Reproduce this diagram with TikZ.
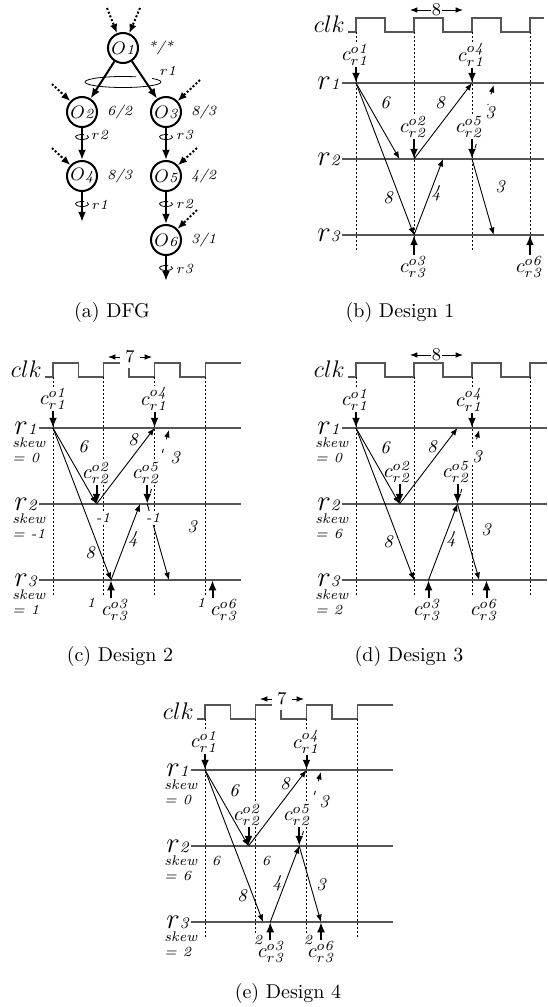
\documentclass[tikz,border=0pt]{standalone}
\usepackage{tikz}
\usetikzlibrary{arrows.meta,positioning}
\definecolor{rowgray}{HTML}{555555}
\newcommand{\clab}[2]{$c^{o\mathit{#1}}_{r\mathit{#2}}$}
\newcommand{\oplab}[1]{{\small$O$}{\scriptsize\itshape#1}}
\newcommand{\rsmall}[1]{$r$\textit{#1}}
\newcommand{\rbig}[1]{{\Large$r$}{\footnotesize\itshape#1}}
\newcommand{\rloop}[3]{\draw[loopline] (#1) ++(-40:#2 and #3) arc[start angle=-40,end angle=290,x radius=#2,y radius=#3];}
\tikzset{
  >={Latex[length=1.3mm,width=1mm]},
  opnode/.style={circle,draw,line width=1pt,minimum size=15pt,inner sep=0pt},
  dfgedge/.style={-{Latex[length=1.8mm,width=1.4mm]},line width=1pt},
  inarrow/.style={-{Latex[length=1.6mm,width=1.3mm]},line width=1pt,dash pattern=on 1pt off 1pt},
  loopline/.style={line width=.4pt},
  ratio/.style={font=\scriptsize\itshape},
  rlab/.style={font=\scriptsize,inner sep=1pt},
  row/.style={draw=rowgray,line width=.7pt},
  clkline/.style={draw=rowgray,line width=.7pt},
  tick/.style={line width=.4pt,dash pattern=on 1pt off 1pt},
  dep/.style={->,line width=.45pt},
  span/.style={<->,line width=.45pt},
  cin/.style={-{Latex[length=1.8mm,width=1.4mm]},line width=1pt},
  feed/.style={->,line width=.45pt,dash pattern=on 2pt off 5pt},
  clabel/.style={fill=white,inner sep=.5pt},
  num/.style={font=\small\itshape,inner sep=1pt},
  tinylab/.style={font=\scriptsize\itshape,inner sep=1pt,fill=white},
  skew/.style={font=\scriptsize\itshape,inner sep=0pt,anchor=west},
  per/.style={font=\small,fill=white,inner sep=.5pt},
  clkname/.style={font=\large,anchor=base east,inner sep=0pt},
  rname/.style={anchor=east,inner sep=0pt},
  caption/.style={font=\normalsize},
}
\begin{document}
\begin{tikzpicture}[x=0.5pt,y=-0.5pt]
  \useasboundingbox (0,0) rectangle (547,1007);

  \node[opnode] (o1) at (123,48) {\oplab{1}};
  \node[opnode] (o2) at (82,112) {\oplab{2}};
  \node[opnode] (o3) at (166,112) {\oplab{3}};
  \node[opnode] (o4) at (82,176) {\oplab{4}};
  \node[opnode] (o5) at (166,176) {\oplab{5}};
  \node[opnode] (o6) at (166,240) {\oplab{6}};
  \node[ratio,right=1pt of o1] (w1) {*/*};
  \node[ratio,right=1pt of o2] (w2) {6/2};
  \node[ratio,right=1pt of o3] (w3) {8/3};
  \node[ratio,right=1pt of o4] (w4) {8/3};
  \node[ratio,right=1pt of o5] (w5) {4/2};
  \node[ratio,right=1pt of o6] (w6) {3/1};
  \coordinate (x4) at (82,222);
  \coordinate (x6) at (166,281);
  \draw[dfgedge] (o1) -- (o2);
  \draw[dfgedge] (o1) -- (o3);
  \draw[dfgedge] (o2) -- (o4);
  \draw[dfgedge] (o3) -- (o5);
  \draw[dfgedge] (o5) -- (o6);
  \draw[dfgedge] (o4) -- (x4);
  \draw[dfgedge] (o6) -- (x6);
  \coordinate (i1a) at (107,8); \coordinate (i1b) at (140,8);
  \coordinate (i2) at (52,84);  \coordinate (i3) at (200,80);
  \coordinate (i4) at (52,148); \coordinate (i5) at (197,148);
  \coordinate (i6) at (197,210);
  \foreach \src/\dst in {i1a/o1,i1b/o1,i2/o2,i3/o3,i4/o4,i5/o5,i6/o6}
    \draw[inarrow] (\src) -- (\dst);
  \coordinate (lp1) at (123,82);  \rloop{lp1}{38}{5.5}
  \coordinate (lp2) at (82,137);  \rloop{lp2}{6.5}{2.5}
  \coordinate (lp3) at (166,137); \rloop{lp3}{6.5}{2.5}
  \coordinate (lp4) at (82,204);  \rloop{lp4}{6.5}{2.5}
  \coordinate (lp5) at (166,204); \rloop{lp5}{6.5}{2.5}
  \coordinate (lp6) at (166,268); \rloop{lp6}{6.5}{2.5}
  \node[rlab] (lr1) at (168,71) {\rsmall{1}};
  \node[rlab] (lr2) at (100,135) {\rsmall{2}};
  \node[rlab] (lr3) at (185,135) {\rsmall{3}};
  \node[rlab] (lr4) at (100,205) {\rsmall{1}};
  \node[rlab] (lr5) at (185,204) {\rsmall{2}};
  \node[rlab] (lr6) at (185,269) {\rsmall{3}};

  \begin{scope}[shift={(356,83)}]
    \draw[clkline] (-8,-51) -- (0,-51) \foreach \k in {1,2,3}{ -- ++(0,-14) -- ++(29,0) -- ++(0,14) -- ++(29,0)} -- ++(0,-14) -- (188,-65);
    \node[clkname] (b-clk) at (-11,-51) {$clk$};
    \foreach \x in {0,58,116,174} \draw[tick] (\x,-51) -- (\x,167);
    \coordinate (b-pl) at (54,-73); \coordinate (b-pr) at (107,-73);
    \draw[span] (b-pl) -- node[per] (b-per) {8} (b-pr);
    \foreach \r/\y in {1/0,2/76,3/152}{
      \coordinate (b-s\r) at (-14,\y); \coordinate (b-e\r) at (188,\y);
      \draw[row] (b-s\r) -- (b-e\r);
      \node[rname] (b-r\r) at (-16,\y) {\rbig{\r}};
    }
    \coordinate (b-o1) at (0,0);     \coordinate (b-o2) at (58,76);
    \coordinate (b-o3) at (58,152);  \coordinate (b-o4) at (116,0);
    \coordinate (b-o5) at (116,76);  \coordinate (b-o6) at (174,152);
    \coordinate (b-t2) at (43.5,76); \coordinate (b-t4) at (87,76);
    \coordinate (b-t6) at (137.75,152);
    \coordinate (b-f0) at (119.1,65); \coordinate (b-f1) at (137.75,2);
    \draw[feed] (b-f0) -- (b-f1);
    \node[clabel] (b-c1) at (0,-28) {\clab{1}{1}};
    \node[clabel] (b-c4) at (116,-28) {\clab{4}{1}};
    \node[clabel] (b-c2) at (58,44) {\clab{2}{2}};
    \node[clabel] (b-c5) at (114,44) {\clab{5}{2}};
    \node[clabel] (b-c3) at (58,184) {\clab{3}{3}};
    \node[clabel] (b-c6) at (174,184) {\clab{6}{3}};
    \draw[cin] (b-c1.south -| b-o1) -- (b-o1);
    \draw[cin] (b-c4.south -| b-o4) -- (b-o4);
    \draw[cin] (b-c2.south -| b-o2) -- (b-o2);
    \draw[cin] (b-c5.south -| b-o5) -- (b-o5);
    \draw[cin] (b-c3.north -| b-o3) -- (b-o3);
    \draw[cin] (b-c6.north -| b-o6) -- (b-o6);
    \draw[dep] (b-o1) -- (b-t2);
    \draw[dep] (b-o1) -- (b-o3);
    \draw[dep] (b-o2) -- (b-o4);
    \draw[dep] (b-o3) -- (b-t4);
    \draw[dep] (b-o5) -- (b-t6);
    \node[num] (b-n1) at (29,20) {6};
    \node[num] (b-n2) at (32,115) {8};
    \node[num] (b-n3) at (84,20) {8};
    \node[num] (b-n4) at (80,110) {4};
    \node[num] (b-n5) at (144,104) {3};
    \node[num,fill=white] (b-n6) at (134,30) {3};
  \end{scope}

  \begin{scope}[shift={(53,428)}]
    \draw[clkline] (-8,-51) -- (0,-51) \foreach \k in {1,2,3}{ -- ++(0,-14) -- ++(25.375,0) -- ++(0,14) -- ++(25.375,0)} -- ++(0,-14) -- (188,-65);
    \node[clkname] (c-clk) at (-11,-51) {$clk$};
    \foreach \x in {0,50.75,101.5,152.25} \draw[tick] (\x,-51) -- (\x,167);
    \coordinate (c-pl) at (55,-71); \coordinate (c-pr) at (99,-71);
    \draw[span] (c-pl) -- node[per,inner sep=2.5pt] (c-per) {7} (c-pr);
    \foreach \r/\y/\sk in {1/0/0,2/76/-1,3/152/1}{
      \coordinate (c-s\r) at (-14,\y); \coordinate (c-e\r) at (188,\y);
      \draw[row] (c-s\r) -- (c-e\r);
      \node[rname] (c-r\r) at (-16,\y) {\rbig{\r}};
      \node[skew] (c-k\r) at (-41,\y+15) {skew};
      \node[skew] (c-v\r) at (-41,\y+30) {= \sk};
    }
    \coordinate (c-o1) at (0,0);      \coordinate (c-o2) at (43.5,76);
    \coordinate (c-o3) at (58,152);   \coordinate (c-o4) at (101.5,0);
    \coordinate (c-o5) at (94.25,76); \coordinate (c-o6) at (159.5,152);
    \coordinate (c-t4) at (87,76);    \coordinate (c-t6) at (116,152);
    \coordinate (c-f0) at (97.35,65); \coordinate (c-f1) at (116,2);
    \draw[feed] (c-f0) -- (c-f1);
    \node[clabel] (c-c1) at (1,-29) {\clab{1}{1}};
    \node[clabel] (c-c4) at (102,-29) {\clab{4}{1}};
    \node[clabel] (c-c2) at (44,45) {\clab{2}{2}};
    \node[clabel] (c-c5) at (94,45) {\clab{5}{2}};
    \node[clabel] (c-c3) at (63,182) {\clab{3}{3}};
    \node[clabel] (c-c6) at (172,182) {\clab{6}{3}};
    \draw[cin] (c-c1.south -| c-o1) -- (c-o1);
    \draw[cin] (c-c4.south -| c-o4) -- (c-o4);
    \draw[cin] (c-c2.south -| c-o2) -- (c-o2);
    \draw[cin] (c-c5.south -| c-o5) -- (c-o5);
    \draw[cin] (c-c3.north -| c-o3) -- (c-o3);
    \draw[cin] (c-c6.north -| c-o6) -- (c-o6);
    \draw[dep] (c-o1) -- (c-o2);
    \draw[dep] (c-o1) -- (c-o3);
    \draw[dep] (c-o2) -- (c-o4);
    \draw[dep] (c-o3) -- (c-t4);
    \draw[dep] (c-o5) -- (c-t6);
    \node[num] (c-n1) at (30,19) {6};
    \node[num] (c-n2) at (37,125) {8};
    \node[num] (c-n3) at (80,12) {8};
    \node[num] (c-n4) at (80,111) {4};
    \node[num] (c-n5) at (139,99) {3};
    \node[num,fill=white] (c-n6) at (122,30) {3};
    \node[tinylab] (c-m1) at (50,90) {-1};
    \node[tinylab] (c-m2) at (100,90) {-1};
    \node[tinylab] (c-m3) at (38,175) {1};
    \node[tinylab] (c-m4) at (148,175) {1};
  \end{scope}

  \begin{scope}[shift={(356,428)}]
    \draw[clkline] (-8,-51) -- (0,-51) \foreach \k in {1,2,3}{ -- ++(0,-14) -- ++(29,0) -- ++(0,14) -- ++(29,0)} -- ++(0,-14) -- (191,-65);
    \node[clkname] (d-clk) at (-11,-51) {$clk$};
    \foreach \x in {0,58,116,174} \draw[tick] (\x,-51) -- (\x,167);
    \coordinate (d-pl) at (54,-73); \coordinate (d-pr) at (107,-73);
    \draw[span] (d-pl) -- node[per] (d-per) {8} (d-pr);
    \foreach \r/\y/\sk in {1/0/0,2/76/6,3/152/2}{
      \coordinate (d-s\r) at (-14,\y); \coordinate (d-e\r) at (191,\y);
      \draw[row] (d-s\r) -- (d-e\r);
      \node[rname] (d-r\r) at (-16,\y) {\rbig{\r}};
      \node[skew] (d-k\r) at (-41,\y+15) {skew};
      \node[skew] (d-v\r) at (-41,\y+30) {= \sk};
    }
    \coordinate (d-o1) at (0,0);       \coordinate (d-o2) at (43.5,76);
    \coordinate (d-o3) at (72.5,152);  \coordinate (d-o4) at (116,0);
    \coordinate (d-o5) at (101.5,76);  \coordinate (d-o6) at (130.5,152);
    \coordinate (d-t3) at (58,152);    \coordinate (d-t5) at (101.5,0);
    \coordinate (d-t6) at (123.25,152);
    \coordinate (d-f0) at (104.6,65);  \coordinate (d-f1) at (123.25,2);
    \draw[feed] (d-f0) -- (d-f1);
    \node[clabel] (d-c1) at (0,-28) {\clab{1}{1}};
    \node[clabel] (d-c4) at (114,-28) {\clab{4}{1}};
    \node[clabel] (d-c2) at (42,44) {\clab{2}{2}};
    \node[clabel] (d-c5) at (101,44) {\clab{5}{2}};
    \node[clabel] (d-c3) at (72,182) {\clab{3}{3}};
    \node[clabel] (d-c6) at (129,182) {\clab{6}{3}};
    \draw[cin] (d-c1.south -| d-o1) -- (d-o1);
    \draw[cin] (d-c4.south -| d-o4) -- (d-o4);
    \draw[cin] (d-c2.south -| d-o2) -- (d-o2);
    \draw[cin] (d-c5.south -| d-o5) -- (d-o5);
    \draw[cin] (d-c3.north -| d-o3) -- (d-o3);
    \draw[cin] (d-c6.north -| d-o6) -- (d-o6);
    \draw[dep] (d-o1) -- (d-o2);
    \draw[dep] (d-o1) -- (d-t3);
    \draw[dep] (d-o2) -- (d-t5);
    \draw[dep] (d-o3) -- (d-o5);
    \draw[dep] (d-o5) -- (d-t6);
    \node[num] (d-n1) at (29,20) {6};
    \node[num] (d-n2) at (32,114) {8};
    \node[num] (d-n3) at (76,19) {8};
    \node[num] (d-n4) at (95,111) {4};
    \node[num] (d-n5) at (130,102) {3};
    \node[num,fill=white] (d-n6) at (121,29) {3};
  \end{scope}

  \begin{scope}[shift={(205,770)}]
    \draw[clkline] (-8,-51) -- (0,-51) \foreach \k in {1,2,3}{ -- ++(0,-14) -- ++(25.375,0) -- ++(0,14) -- ++(25.375,0)} -- ++(0,-14) -- (188,-65);
    \node[clkname] (e-clk) at (-11,-51) {$clk$};
    \foreach \x in {0,50.75,101.5,152.25} \draw[tick] (\x,-51) -- (\x,167);
    \coordinate (e-pl) at (55,-71); \coordinate (e-pr) at (99,-71);
    \draw[span] (e-pl) -- node[per,inner sep=2.5pt] (e-per) {7} (e-pr);
    \foreach \r/\y/\sk in {1/0/0,2/76/6,3/152/2}{
      \coordinate (e-s\r) at (-14,\y); \coordinate (e-e\r) at (188,\y);
      \draw[row] (e-s\r) -- (e-e\r);
      \node[rname] (e-r\r) at (-16,\y) {\rbig{\r}};
      \node[skew] (e-k\r) at (-41,\y+15) {skew};
      \node[skew] (e-v\r) at (-41,\y+30) {= \sk};
    }
    \coordinate (e-o1) at (0,0);       \coordinate (e-o2) at (43.5,76);
    \coordinate (e-o3) at (65.25,152); \coordinate (e-o4) at (101.5,0);
    \coordinate (e-o5) at (94.25,76);  \coordinate (e-o6) at (116,152);
    \coordinate (e-t3) at (58,152);
    \coordinate (e-f0) at (97.35,65);  \coordinate (e-f1) at (116,2);
    \draw[feed] (e-f0) -- (e-f1);
    \node[clabel] (e-c1) at (0,-28) {\clab{1}{1}};
    \node[clabel] (e-c4) at (102,-28) {\clab{4}{1}};
    \node[clabel] (e-c2) at (43,45) {\clab{2}{2}};
    \node[clabel] (e-c5) at (93,45) {\clab{5}{2}};
    \node[clabel] (e-c3) at (67,182) {\clab{3}{3}};
    \node[clabel] (e-c6) at (117,182) {\clab{6}{3}};
    \draw[cin] (e-c1.south -| e-o1) -- (e-o1);
    \draw[cin] (e-c4.south -| e-o4) -- (e-o4);
    \draw[cin] (e-c2.south -| e-o2) -- (e-o2);
    \draw[cin] (e-c5.south -| e-o5) -- (e-o5);
    \draw[cin] (e-c3.north -| e-o3) -- (e-o3);
    \draw[cin] (e-c6.north -| e-o6) -- (e-o6);
    \draw[dep] (e-o1) -- (e-o2);
    \draw[dep] (e-o1) -- (e-t3);
    \draw[dep] (e-o2) -- (e-o4);
    \draw[dep] (e-o3) -- (e-o5);
    \draw[dep] (e-o5) -- (e-o6);
    \node[num] (e-n1) at (29,21) {6};
    \node[num] (e-n2) at (37,126) {8};
    \node[num] (e-n3) at (80,14) {8};
    \node[num] (e-n4) at (72,113) {4};
    \node[num] (e-n5) at (116,115) {3};
    \node[num,fill=white] (e-n6) at (119,32) {3};
    \node[tinylab] (e-m1) at (11,91) {6};
    \node[tinylab] (e-m2) at (61,91) {6};
    \node[tinylab] (e-m3) at (53,170) {2};
    \node[tinylab] (e-m4) at (103,170) {2};
  \end{scope}

  \node[caption] (cap-a) at (112,312) {(a) DFG};
  \node[caption] (cap-b) at (400,312) {(b) Design 1};
  \node[caption] (cap-c) at (120,656) {(c) Design 2};
  \node[caption] (cap-d) at (409,656) {(d) Design 3};
  \node[caption] (cap-e) at (288,993) {(e) Design 4};
\end{tikzpicture}
\end{document}
